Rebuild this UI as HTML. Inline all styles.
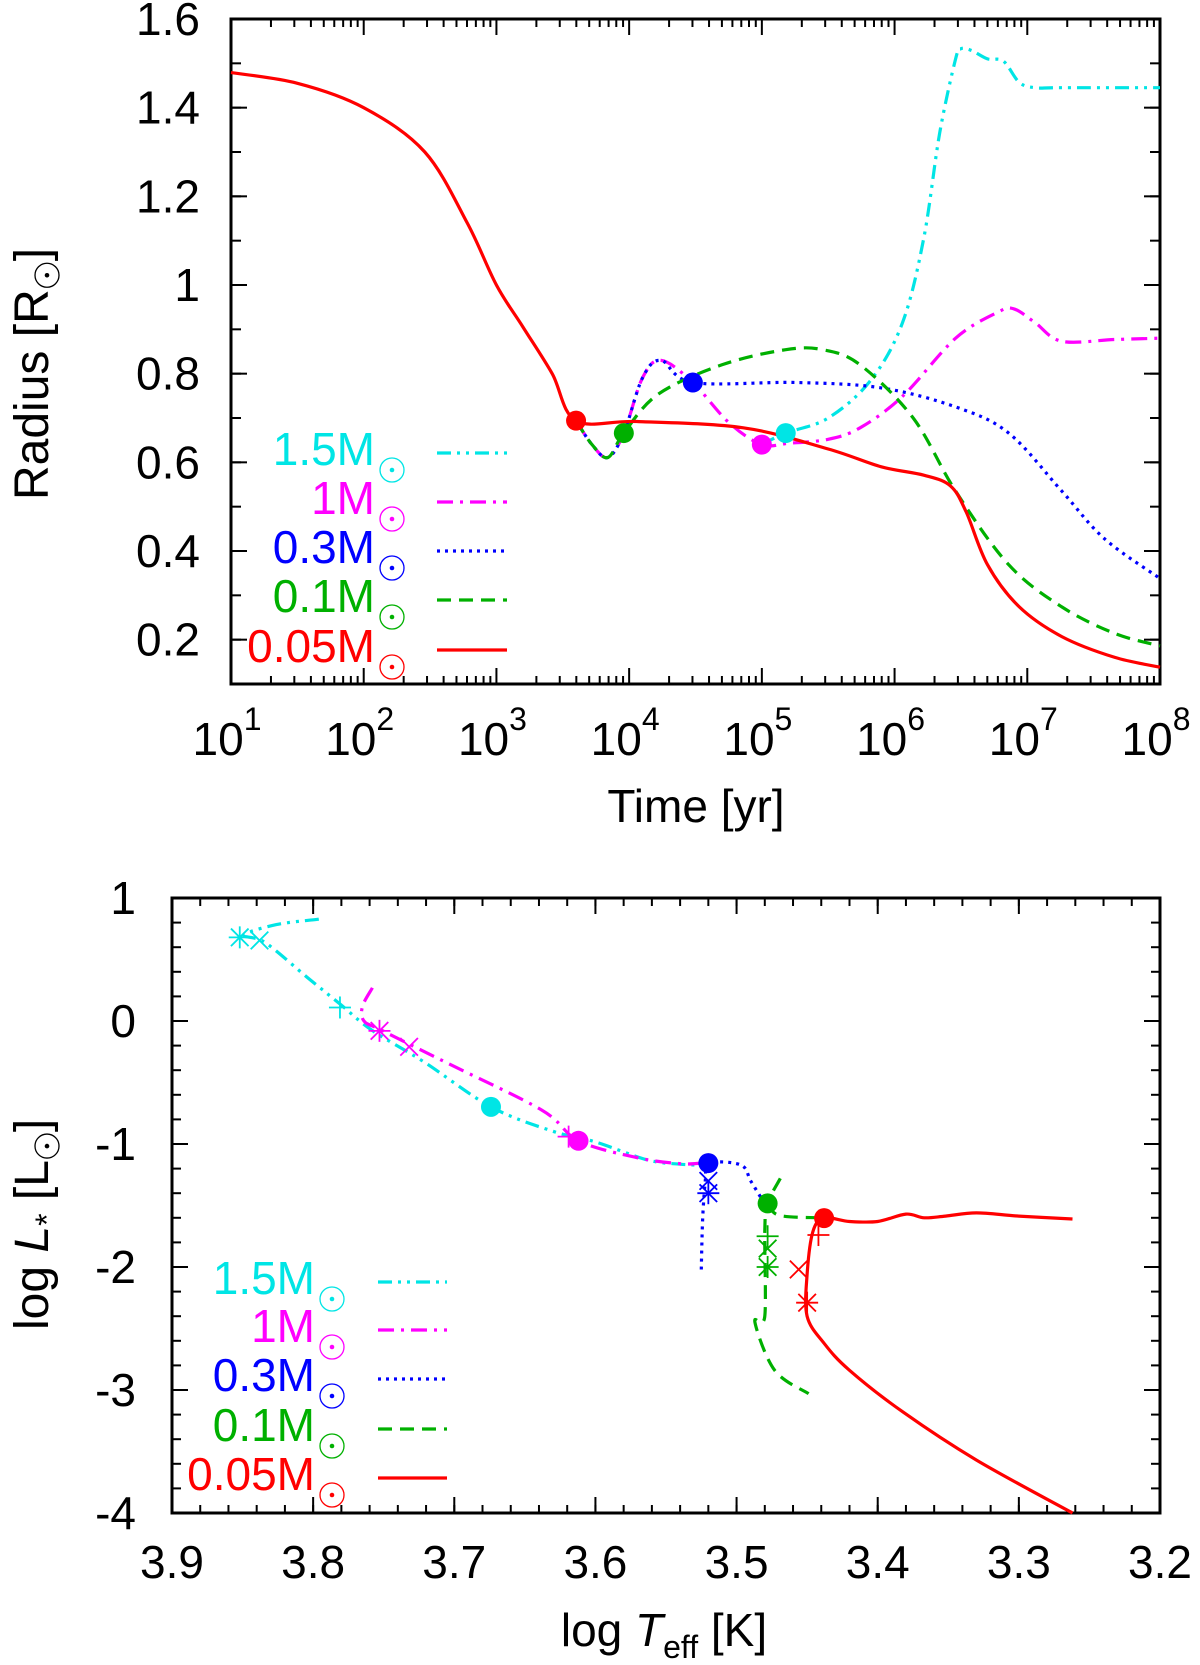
<!DOCTYPE html>
<html><head><meta charset="utf-8"><style>
html,body{margin:0;padding:0;background:#fff;}
svg{display:block;font-family:"Liberation Sans","DejaVu Sans",sans-serif;}
</style></head><body>
<svg id="fig" width="1200" height="1665" viewBox="0 0 1200 1665" xmlns="http://www.w3.org/2000/svg">
<g id="topchart"></g>
<g id="botchart"></g>
</svg>
<script>
// ---------- Top chart data (log10 time [yr], radius [Rsun]) ----------
const topXTicks = [1,2,3,4,5,6,7,8];
const topYTicks = [0.2,0.4,0.6,0.8,1,1.2,1.4,1.6];
const topYLabels = ["0.2","0.4","0.6","0.8","1","1.2","1.4","1.6"];
const redT = [1,1.5,2.0,2.46,2.78,3.0,3.2,3.42,3.6,4.06,4.86,5.5,5.9,6.22,6.42,6.54,6.7,6.94,7.26,7.66,8];
const redR = [1.479,1.455,1.40,1.30,1.14,1.0,0.905,0.8,0.694,0.692,0.678,0.63,0.59,0.571,0.547,0.488,0.369,0.274,0.207,0.16,0.138];
const greenT = [3.6,3.72,3.84,3.96,4.22,4.7,5.18,5.46,5.74,6.14,6.46,6.86,7.26,7.66,8];
const greenR = [0.694,0.64,0.611,0.666,0.754,0.82,0.854,0.854,0.82,0.7,0.535,0.369,0.274,0.214,0.186];
const blueT = [3.6,3.72,3.84,3.96,4.1,4.24,4.48,5.26,5.9,6.46,6.86,7.26,7.58,8];
const blueR = [0.694,0.64,0.611,0.666,0.79,0.83,0.78,0.78,0.768,0.725,0.666,0.535,0.428,0.338];
const magT = [3.6,3.72,3.84,3.96,4.1,4.24,4.48,4.75,5.0,5.2,5.5,5.74,6.06,6.46,6.78,6.9,7.06,7.26,7.66,8];
const magR = [0.694,0.64,0.611,0.666,0.79,0.83,0.78,0.69,0.64,0.643,0.652,0.678,0.749,0.88,0.939,0.946,0.915,0.873,0.877,0.88];
const cyanT = [5.0,5.18,5.5,5.82,6.06,6.22,6.34,6.46,6.5,6.58,6.7,6.82,6.94,7.06,7.26,8];
const cyanR = [0.64,0.666,0.7,0.785,0.915,1.106,1.343,1.51,1.533,1.529,1.51,1.505,1.457,1.445,1.445,1.445];
const topDotT = [3.6,3.96,4.48,5.0,5.18];
const topDotR = [0.694,0.666,0.78,0.64,0.666];
const topDotC = ["#ff0000","#00b000","#0000ff","#ff00ff","#00e5e5"];

// ---------- Bottom chart data (log Teff, log L) ----------
const botXTicks = [3.9,3.8,3.7,3.6,3.5,3.4,3.3,3.2];
const botXLabels = ["3.9","3.8","3.7","3.6","3.5","3.4","3.3","3.2"];
const botYTicks = [1,0,-1,-2,-3,-4];
const botYLabels = ["1","0","-1","-2","-3","-4"];
const hCyanT = [3.796,3.826,3.849,3.834,3.804,3.781,3.758,3.721,3.674,3.63,3.6,3.563,3.54,3.525];
const hCyanL = [0.828,0.784,0.698,0.638,0.353,0.138,-0.078,-0.336,-0.698,-0.897,-0.983,-1.13,-1.164,-1.172];
const hMagT = [3.758,3.765,3.764,3.751,3.706,3.638,3.612,3.57,3.54,3.525];
const hMagL = [0.27,0.12,0.0,-0.078,-0.336,-0.724,-0.974,-1.112,-1.16,-1.155];
const hBlueT = [3.525,3.524,3.522,3.52,3.497,3.49,3.482];
const hBlueL = [-2.02,-1.6,-1.28,-1.155,-1.17,-1.3,-1.45];
const hGreenT = [3.469,3.478,3.48,3.48,3.487,3.473,3.449];
const hGreenL = [-1.28,-1.483,-1.7,-2.4,-2.448,-2.84,-3.03];
const hGreenFlatT = [3.478,3.47,3.442];
const hGreenFlatL = [-1.483,-1.58,-1.6];
const hRedT = [3.262,3.3,3.33,3.352,3.367,3.38,3.4,3.42,3.438,3.446,3.45,3.45,3.438,3.42,3.382,3.33,3.262];
const hRedL = [-1.61,-1.586,-1.56,-1.586,-1.6,-1.57,-1.63,-1.63,-1.603,-1.715,-2.06,-2.4,-2.62,-2.84,-3.18,-3.57,-4.0];
const hDotT = [3.674,3.612,3.52,3.478,3.438];
const hDotL = [-0.698,-0.974,-1.155,-1.483,-1.603];
const hDotC = ["#00e5e5","#ff00ff","#0000ff","#00b000","#ff0000"];
const mkT = [3.852,3.838,3.781,3.753,3.732,3.619,3.52,3.52,3.478,3.478,3.478,3.442,3.456,3.45];
const mkL = [0.68,0.655,0.11,-0.08,-0.21,-0.94,-1.3,-1.4,-1.75,-1.85,-2.0,-1.74,-2.02,-2.29];
const mkS = ["ast","x","plus","ast","x","plus","x","ast","plus","x","ast","plus","x","ast"];
const mkC = ["#00e5e5","#00e5e5","#00e5e5","#ff00ff","#ff00ff","#ff00ff","#0000ff","#0000ff","#00b000","#00b000","#00b000","#ff0000","#ff0000","#ff0000"];

const NS="http://www.w3.org/2000/svg";
function mk(parent,tag,attrs,text){const e=document.createElementNS(NS,tag);for(const k in attrs)e.setAttribute(k,attrs[k]);if(text!==undefined)e.textContent=text;parent.appendChild(e);return e;}

const TL=231,TR=1160,TT=19,TB=684;
const xT=v=>TL+(v-1)*(TR-TL)/7;
const yT=v=>TB-(v-0.1)*(TB-TT)/1.5;
const BL=172,BR=1160,BT=898,BB=1513;
const xB=v=>BL+(3.9-v)*(BR-BL)/0.7;
const yB=v=>BT+(1-v)*(BB-BT)/5;

const gTop=document.getElementById('topchart'), gBot=document.getElementById('botchart');
const COL={cyan:"#00e5e5",mag:"#ff00ff",blue:"#0000ff",green:"#00b000",red:"#ff0000"};
const DASH={cyan:"14,6,3,6,3,6",mag:"16,7,3,7",blue:"3,5",green:"14,8",red:""};

function line(g,xs,ys,fx,fy,key,name){
  const P=xs.map((v,i)=>[fx(v),fy(ys[i])]);
  let d='M'+P[0][0].toFixed(1)+','+P[0][1].toFixed(1);
  for(let i=0;i<P.length-1;i++){
    const p0=P[Math.max(0,i-1)],p1=P[i],p2=P[i+1],p3=P[Math.min(P.length-1,i+2)];
    const c1=[p1[0]+(p2[0]-p0[0])/6,p1[1]+(p2[1]-p0[1])/6];
    const c2=[p2[0]-(p3[0]-p1[0])/6,p2[1]-(p3[1]-p1[1])/6];
    d+='C'+c1[0].toFixed(1)+','+c1[1].toFixed(1)+' '+c2[0].toFixed(1)+','+c2[1].toFixed(1)+' '+p2[0].toFixed(1)+','+p2[1].toFixed(1);
  }
  const p=mk(g,'path',{d:d,fill:'none',stroke:COL[key],'stroke-width':3.2,'stroke-dasharray':DASH[key],'stroke-linejoin':'round'});
  
  
}

(function(){
  const ax=mk(gTop,'g',{});
  
  
  for(let dec=1;dec<8;dec++){for(let m=2;m<10;m++){const x=xT(dec+Math.log10(m));
    mk(ax,'line',{x1:x,y1:TB,x2:x,y2:TB-8,stroke:'#000','stroke-width':2});
    mk(ax,'line',{x1:x,y1:TT,x2:x,y2:TT+8,stroke:'#000','stroke-width':2});}}
  topXTicks.forEach(v=>{const x=xT(v);
    mk(ax,'line',{x1:x,y1:TB,x2:x,y2:TB-16,stroke:'#000','stroke-width':2});
    mk(ax,'line',{x1:x,y1:TT,x2:x,y2:TT+16,stroke:'#000','stroke-width':2});
    const t=mk(ax,'text',{x:x-4,y:755,'font-size':46,'text-anchor':'middle'});
    
    
    t.appendChild(document.createTextNode('10'));
    mk(t,'tspan',{dy:-25,'font-size':32},String(v));
  });
  for(let v=0.1;v<1.61;v+=0.1){const y=yT(v);
    mk(ax,'line',{x1:TL,y1:y,x2:TL+10,y2:y,stroke:'#000','stroke-width':2});
    mk(ax,'line',{x1:TR,y1:y,x2:TR-10,y2:y,stroke:'#000','stroke-width':2});}
  topYTicks.forEach((v,i)=>{const y=yT(v);
    mk(ax,'line',{x1:TL,y1:y,x2:TL+16,y2:y,stroke:'#000','stroke-width':2});
    mk(ax,'line',{x1:TR,y1:y,x2:TR-16,y2:y,stroke:'#000','stroke-width':2});
    const t=mk(ax,'text',{x:200,y:y+16,'font-size':46,'text-anchor':'end'},topYLabels[i]);
    
    
  });
  mk(ax,'rect',{x:TL,y:TT,width:TR-TL,height:TB-TT,fill:'none',stroke:'#000','stroke-width':3});
})();
line(gTop,cyanT,cyanR,xT,yT,'cyan','line-1.5msun');
line(gTop,magT,magR,xT,yT,'mag','line-1msun');
line(gTop,blueT,blueR,xT,yT,'blue','line-0.3msun');
line(gTop,greenT,greenR,xT,yT,'green','line-0.1msun');
line(gTop,redT,redR,xT,yT,'red','line-0.05msun');
topDotT.forEach((v,i)=>{const c=mk(gTop,'circle',{cx:xT(v),cy:yT(topDotR[i]),r:10,fill:topDotC[i]});
  
  });

(function(){
  const ax=mk(gBot,'g',{});
  
  
  for(let v=3.9;v>3.199;v-=0.02){const x=xB(v);
    mk(ax,'line',{x1:x,y1:BB,x2:x,y2:BB-8,stroke:'#000','stroke-width':2});
    mk(ax,'line',{x1:x,y1:BT,x2:x,y2:BT+8,stroke:'#000','stroke-width':2});}
  botXTicks.forEach((v,i)=>{const x=xB(v);
    mk(ax,'line',{x1:x,y1:BB,x2:x,y2:BB-16,stroke:'#000','stroke-width':2});
    mk(ax,'line',{x1:x,y1:BT,x2:x,y2:BT+16,stroke:'#000','stroke-width':2});
    const t=mk(ax,'text',{x:x,y:1578,'font-size':46,'text-anchor':'middle'},botXLabels[i]);
    
    
  });
  for(let v=1;v>-4.01;v-=0.2){const y=yB(v);
    mk(ax,'line',{x1:BL,y1:y,x2:BL+9,y2:y,stroke:'#000','stroke-width':2});
    mk(ax,'line',{x1:BR,y1:y,x2:BR-9,y2:y,stroke:'#000','stroke-width':2});}
  botYTicks.forEach((v,i)=>{const y=yB(v);
    mk(ax,'line',{x1:BL,y1:y,x2:BL+16,y2:y,stroke:'#000','stroke-width':2});
    mk(ax,'line',{x1:BR,y1:y,x2:BR-16,y2:y,stroke:'#000','stroke-width':2});
    const t=mk(ax,'text',{x:136,y:y+16,'font-size':46,'text-anchor':'end'},botYLabels[i]);
    
    
  });
  mk(ax,'rect',{x:BL,y:BT,width:BR-BL,height:BB-BT,fill:'none',stroke:'#000','stroke-width':3});
})();
line(gBot,hCyanT,hCyanL,xB,yB,'cyan','track-1.5msun');
line(gBot,hMagT,hMagL,xB,yB,'mag','track-1msun');
line(gBot,hBlueT,hBlueL,xB,yB,'blue','track-0.3msun');
line(gBot,hGreenT,hGreenL,xB,yB,'green','track-0.1msun');
line(gBot,hGreenFlatT,hGreenFlatL,xB,yB,'green','track-0.1msun-flat');
line(gBot,hRedT,hRedL,xB,yB,'red','track-0.05msun');
hDotT.forEach((v,i)=>{const c=mk(gBot,'circle',{cx:xB(v),cy:yB(hDotL[i]),r:10,fill:hDotC[i]});
  
  });
mkT.forEach((v,i)=>{const x=xB(v),y=yB(mkL[i]),s=11,c=mkC[i];
  const g=mk(gBot,'g',{stroke:c,'stroke-width':1.8});
  
  
  if(mkS[i]!=='x'){mk(g,'line',{x1:x-s,y1:y,x2:x+s,y2:y});mk(g,'line',{x1:x,y1:y-s,x2:x,y2:y+s});}
  if(mkS[i]!=='plus'){mk(g,'line',{x1:x-s*0.8,y1:y-s*0.8,x2:x+s*0.8,y2:y+s*0.8});mk(g,'line',{x1:x-s*0.8,y1:y+s*0.8,x2:x+s*0.8,y2:y-s*0.8});}
});

const legLabels=["1.5M","1M","0.3M","0.1M","0.05M"];
const legKeys=["cyan","mag","blue","green","red"];
function legend(g,textRight,lx1,lx2,ys){
  legKeys.forEach((k,i)=>{const y=ys[i];
    const e=mk(g,'g',{});
    
    
    mk(e,'text',{x:textRight,y:y+12,'font-size':46,'text-anchor':'end',fill:COL[k]},legLabels[i]);
    mk(e,'circle',{cx:textRight+17,cy:y+17,r:12,fill:'none',stroke:COL[k],'stroke-width':1.3});
    mk(e,'circle',{cx:textRight+17,cy:y+17,r:2.3,fill:COL[k]});
    mk(e,'line',{x1:lx1,y1:y,x2:lx2,y2:y,stroke:COL[k],'stroke-width':3.2,'stroke-dasharray':DASH[k]});
  });
}
legend(gTop,375,437,507,[453,502,551,600,650]);
legend(gBot,315,378,447,[1282,1330,1379,1429,1478]);

function sunTitle(g,start,baseX,build,name){
  const t=mk(g,'text',{x:0,y:0,'font-size':48,transform:'translate('+baseX+','+start+') rotate(-90)'});
  
  
  build(t);
  let len=230; try{len=t.getComputedTextLength();}catch(e){}
  const cy=start-len-14;
  mk(g,'circle',{cx:baseX-1,cy:cy,r:12,fill:'none',stroke:'#000','stroke-width':1.3});
  mk(g,'circle',{cx:baseX-1,cy:cy,r:2.3,fill:'#000'});
  mk(g,'text',{x:0,y:0,'font-size':48,transform:'translate('+baseX+','+(start-len-28)+') rotate(-90)'},']');
}

(function(){
  let t=mk(gTop,'text',{x:696,y:822,'font-size':46,'text-anchor':'middle'},'Time [yr]');
  
  
  sunTitle(gTop,500,48,tt=>{tt.appendChild(document.createTextNode('Radius [R'));},'y-axis-title');
  t=mk(gBot,'text',{x:664,y:1646,'font-size':46,'text-anchor':'middle'});
  
  
  t.appendChild(document.createTextNode('log '));
  mk(t,'tspan',{'font-style':'italic'},'T');
  mk(t,'tspan',{'font-size':32,dy:12},'eff');
  mk(t,'tspan',{dy:-12},' [K]');
  sunTitle(gBot,1330,48,tt=>{
    tt.appendChild(document.createTextNode('log '));
    mk(tt,'tspan',{'font-style':'italic'},'L');
    mk(tt,'tspan',{'font-size':32,dy:10},'*');
    mk(tt,'tspan',{dy:-10},' [L');
  },'y-axis-title');
})();
</script>
</body></html>
